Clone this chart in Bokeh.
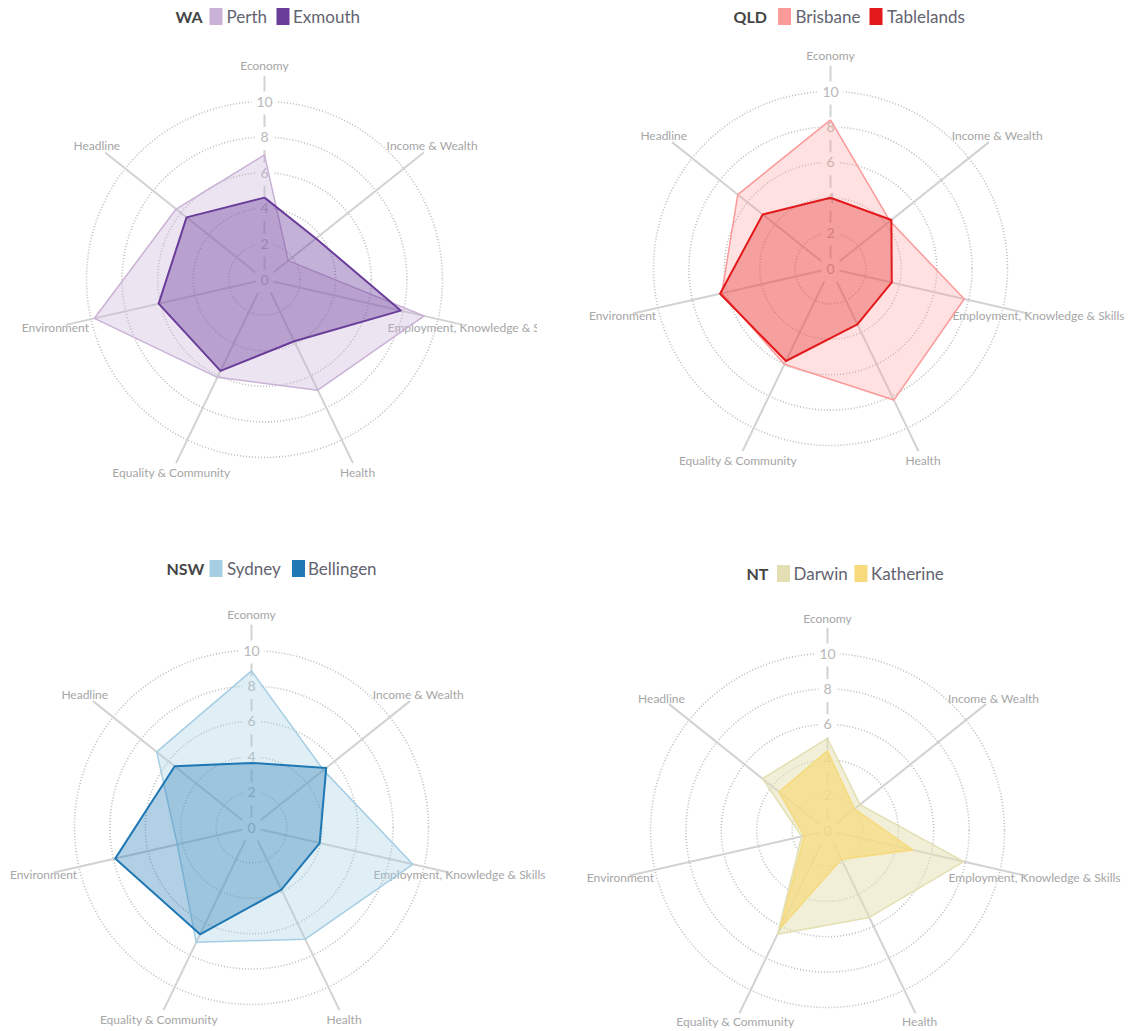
import math
from bokeh.plotting import figure
from bokeh.models import Range1d
from bokeh.layouts import row, column
from bokeh.embed import file_html
from bokeh.resources import INLINE
from bokeh.core.properties import value

# ---------------- data ----------------
categories = ["Economy", "Income & Wealth", "Employment, Knowledge & Skills",
              "Health", "Equality & Community", "Environment", "Headline"]
tick_values = [0, 2, 4, 6, 8, 10]
tick_labels = ["0", "2", "4", "6", "8", "10"]

states = ["WA", "QLD", "NSW", "NT"]

wa_names = ["Perth", "Exmouth"]
perth = [7.0, 1.7, 9.2, 6.9, 6.1, 9.8, 6.35]
exmouth = [4.6, 3.7, 7.85, 3.85, 5.7, 6.1, 5.6]

qld_names = ["Brisbane", "Tablelands"]
brisbane = [8.4, 4.3, 7.75, 8.25, 6.0, 6.3, 6.7]
tablelands = [4.0, 4.4, 3.55, 3.5, 5.8, 6.4, 4.9]

nsw_names = ["Sydney", "Bellingen"]
sydney = [8.85, 5.2, 9.35, 7.0, 7.2, 4.3, 6.85]
bellingen = [3.65, 5.4, 3.95, 3.9, 6.7, 7.9, 5.55]

nt_names = ["Darwin", "Katherine"]
darwin = [5.2, 2.35, 7.9, 5.45, 6.5, 1.5, 4.7]
katherine = [4.5, 1.95, 4.95, 1.8, 6.1, 1.35, 3.5]

FONT = "Lato"
AXIS_COLOR = "#d2d2d2"
GRID_COLOR = "#bdbdbd"
LABEL_COLOR = "#a6a6a6"
TICK_COLOR = "#b8b8b8"


def panel(frame, center, scale, label_r, state, names, series, colors, alphas,
          widths, legend):
    x0, x1, y0, y1 = frame
    cx, cy = center
    p = figure(width=x1 - x0, height=y1 - y0,
               x_range=Range1d(x0, x1), y_range=Range1d(y1, y0),
               output_backend="svg", toolbar_location=None, min_border=0)
    p.axis.visible = False
    p.grid.visible = False
    p.outline_line_color = None
    p.background_fill_color = "white"
    p.border_fill_color = "white"

    n = len(categories)
    angles = [math.pi / 2 - 2 * math.pi * i / n for i in range(n)]

    def pt(r, a):
        return cx + r * scale * math.cos(a), cy - r * scale * math.sin(a)

    # dotted grid rings
    rings = [t for t in tick_values if t > 0]
    p.circle([cx] * len(rings), [cy] * len(rings), radius=[t * scale for t in rings],
             fill_color=None, line_color=GRID_COLOR, line_dash="1 2", line_width=1.6)

    # spokes
    ends = [pt(11.45, a) for a in angles]
    p.segment([cx] * n, [cy] * n, [e[0] for e in ends], [e[1] for e in ends],
              line_color=AXIS_COLOR, line_width=2)

    # tick labels on the Economy spoke, with white boxes
    tx = [pt(t, angles[0])[0] for t in tick_values]
    ty = [pt(t, angles[0])[1] for t in tick_values]
    bw = [10 + 8 * len(s) for s in tick_labels]
    p.rect(tx, [y + 1.5 for y in ty], width=bw, height=[23] * len(ty),
           fill_color="white", line_color=None)
    p.text(tx, ty, text=tick_labels, text_align="center", text_baseline="middle",
           text_font=value(FONT), text_font_size="14px", text_color=TICK_COLOR)

    # category labels
    lab = [pt(label_r, a) for a in angles]
    p.text([l[0] for l in lab], [l[1] for l in lab], text=categories,
           text_align="center", text_baseline="middle",
           text_font=value(FONT), text_font_size="12px", text_color=LABEL_COLOR)

    # series polygons
    for vals, c, a, w in zip(series, colors, alphas, widths):
        pts = [pt(v, ang) for v, ang in zip(vals, angles)]
        xs = [q[0] for q in pts]
        ys = [q[1] for q in pts]
        p.patch(xs, ys, fill_color=c, fill_alpha=a, line_color=None)
        p.line(xs + [xs[0]], ys + [ys[0]], line_color=c, line_width=w,
               line_join="round")

    # legend
    sx, ly, sw1, n1, sw2, n2 = legend
    p.text([sx], [ly], text=[state], text_align="left", text_baseline="middle",
           text_font=value(FONT), text_font_size="16px", text_font_style="bold",
           text_color="#454545")
    p.rect([sw1 + 6.5, sw2 + 6.5], [ly, ly], width=13, height=17,
           fill_color=colors, line_color=None)
    p.text([n1, n2], [ly, ly], text=names, text_align="left", text_baseline="middle",
           text_font=value(FONT), text_font_size="17px", text_color="#636370")
    return p


wa = panel((0, 537, 0, 520), (264, 279), 17.8, 12.05, states[0], wa_names,
           [perth, exmouth], ["#cab2d6", "#6a3d9a"], [0.35, 0.4], [1.5, 2],
           (175, 16, 209, 226, 276, 292.5))
qld = panel((537, 1124, 0, 520), (830, 268), 17.7, 12.05, states[1], qld_names,
            [brisbane, tablelands], ["#fb9a99", "#e31a1c"], [0.3, 0.33], [1.5, 2],
            (733, 16, 777.5, 795, 869, 886.5))
nsw = panel((0, 560, 520, 1029), (251, 827), 17.7, 12.05, states[2], nsw_names,
            [sydney, bellingen], ["#a6cee3", "#1f78b4"], [0.35, 0.35], [1.5, 2],
            (166, 568, 209, 226.5, 291.5, 307.5))
nt = panel((560, 1124, 520, 1029), (827, 830), 17.7, 12.0, states[3], nt_names,
           [darwin, katherine], ["#e3dfb2", "#f6da7c"], [0.5, 0.7], [1.5, 1.5],
           (746, 573, 776.5, 793, 854, 870.5))

layout = column(row(wa, qld), row(nsw, nt))
open("out.html", "w").write(file_html(layout, INLINE))
